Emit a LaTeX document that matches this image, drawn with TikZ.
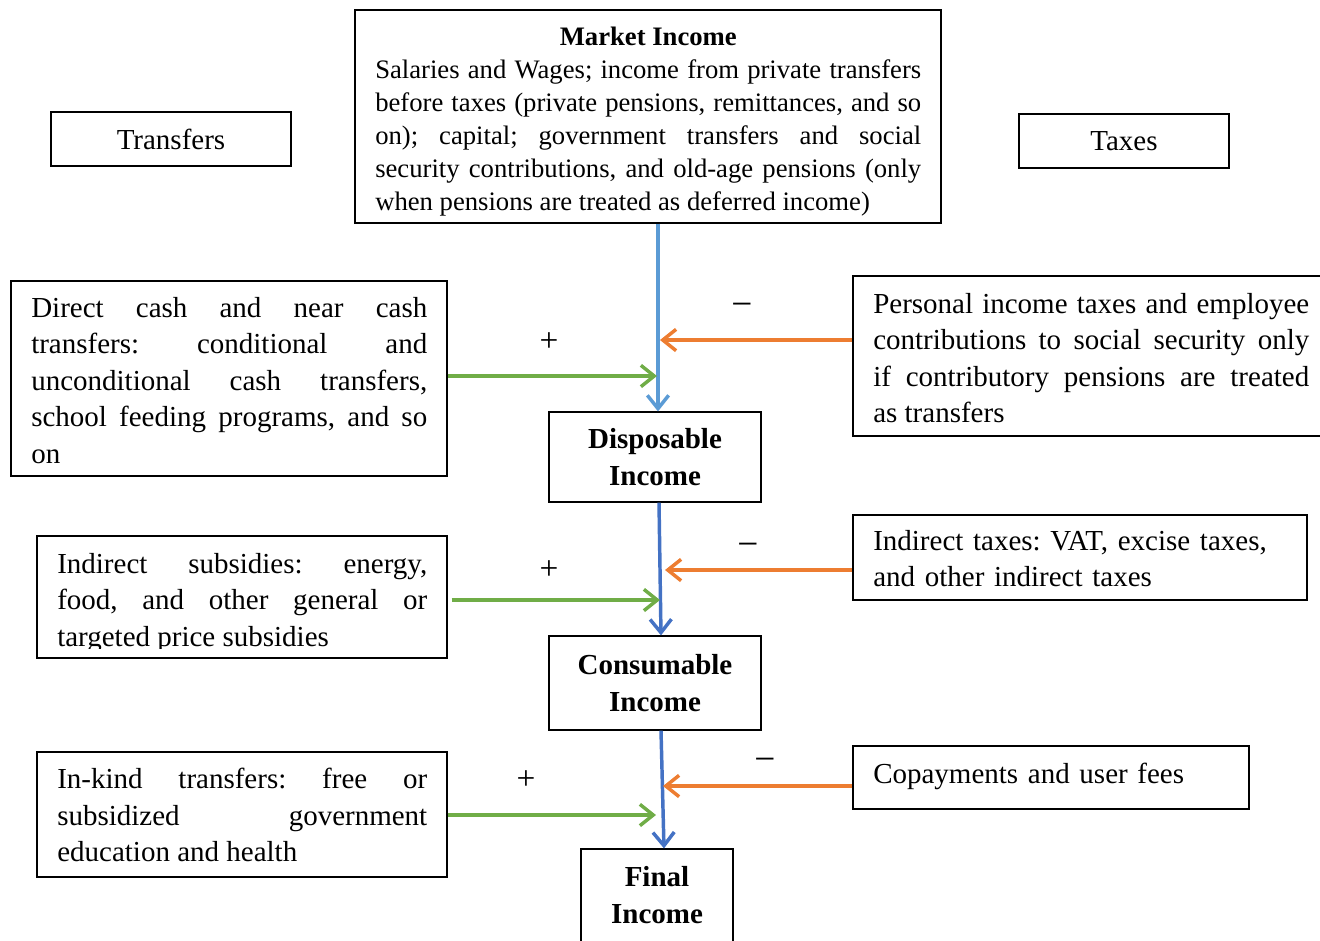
\documentclass[tikz,border=0pt]{standalone}
\usepackage{fontspec}
\setmainfont{Liberation Serif}
\usetikzlibrary{arrows.meta,fit,calc}
\tolerance=10000 \hbadness=10000 \hyphenpenalty=10000 \exhyphenpenalty=10000
\frenchspacing
\newdimen\pxu \pxu=0.75pt
\definecolor{lblue}{HTML}{5B9BD5}
\definecolor{dblue}{HTML}{4472C4}
\definecolor{fgreen}{HTML}{70AD47}
\definecolor{forange}{HTML}{ED7D31}
\newcommand{\bigtxt}{\fontsize{21.75}{27.4}\selectfont}
\newcommand{\midtxt}{\fontsize{20}{24.75}\selectfont}
\newcommand{\bigbold}{\fontsize{21.75}{27.75}\selectfont\bfseries}
\begin{document}
\begin{tikzpicture}[x=0.75pt,y=-0.75pt,
  frame/.style={draw=black, line width=0.9pt, inner sep=0pt},
  para/.style={anchor=north west, inner sep=0pt, align=justify, font=\bigtxt\frenchspacing},
  flow/.style={line width=2.6pt, -{Straight Barb[length=10pt,width=16pt]}},
  plussign/.style={font=\fontsize{25}{26}\selectfont, inner sep=0pt, anchor=base},
  minussign/.style={font=\fontsize{28}{30}\selectfont, inner sep=0pt, anchor=base},
  titlebox/.style={frame, align=center, font=\bigbold},
]
\useasboundingbox (0,0) rectangle (1320,940);
\clip (0,0) rectangle (1320,940);

% top boxes
\node[frame, fit={(355,10)(941,223)}] (market) {};
\node[para, font=\midtxt\frenchspacing, text width=546\pxu] (markettxt) at (375,27)
 {\hspace*{\fill}\textbf{Market Income}\hspace*{\fill}\\
  Salaries and Wages; income from private transfers\linebreak
  before taxes (private pensions, remittances, and so\linebreak
  on); capital; government transfers and social\linebreak
  security contributions, and old-age pensions (only\linebreak
  when pensions are treated as deferred income)};

\node[frame, minimum width=240\pxu, minimum height=54\pxu, font=\bigtxt] (transfers) at (171,139) {Transfers};
\node[frame, minimum width=210\pxu, minimum height=54\pxu, font=\bigtxt] (taxes) at (1124,141) {Taxes};

% left boxes
\node[frame, fit={(11,281)(447,476)}] (direct) {};
\node[para, text width=396\pxu] (directtxt) at (31,297)
 {Direct cash and near cash\linebreak
  transfers: conditional and\linebreak
  unconditional cash transfers,\linebreak
  school feeding programs, and so\linebreak
  on};

\node[frame, fit={(37,536)(447,658)}] (subs) {};
\begin{scope}
\clip (37,536) rectangle (447,648);
\node[para, text width=370\pxu] (substxt) at (57,553)
 {Indirect subsidies: energy,\linebreak
  food, and other general or\linebreak
  targeted price subsidies};
\end{scope}

\node[frame, fit={(37,752)(447,877)}] (inkind) {};
\node[para, text width=370\pxu] (inkindtxt) at (57,768)
 {In-kind transfers: free or\linebreak
  subsidized government\linebreak
  education and health};

% right boxes
\node[frame, fit={(853,276)(1330,436)}] (pers) {};
\node[para, text width=436\pxu] (perstxt) at (873,293)
 {Personal income taxes and employee\linebreak
  contributions to social security only\linebreak
  if contributory pensions are treated\linebreak
  as transfers};

\node[frame, fit={(853,515)(1307,600)}] (indtax) {};
\node[para, align=left, text width=414\pxu] (indtaxtxt) at (873,530)
 {Indirect taxes: VAT, excise taxes,\\ and other indirect taxes};

\node[frame, fit={(853,746)(1249,809)}] (copay) {};
\node[para, align=left, text width=376\pxu] (copaytxt) at (873,763)
 {Copayments and user fees};

% central boxes
\node[titlebox, minimum width=212\pxu, minimum height=90\pxu] (disp) at (655,457) {Disposable\\Income};
\node[titlebox, minimum width=212\pxu, minimum height=94\pxu] (cons) at (655,683) {Consumable\\Income};
\node[frame, fit={(581,849)(733,970)}] (final) {};
\node[font=\bigbold, align=center, inner sep=0pt] (finaltxt) at (657,895) {Final\\Income};

% signs
\node[plussign] (p1) at (549,351) {+};
\node[minussign] (m1) at (742,316) {−};
\node[plussign] (p2) at (549,579) {+};
\node[minussign] (m2) at (748,556) {−};
\node[plussign] (p3) at (526,789) {+};
\node[minussign] (m3) at (765,771) {−};

% connector coordinates
\coordinate (v1) at (658,0);
\coordinate (v2s) at (659,0);
\coordinate (v2e) at (661,0);
\coordinate (v3s) at (661,0);
\coordinate (v3e) at (664,0);
\coordinate (o1) at (660,340);
\coordinate (g1) at (657,376);
\coordinate (o2) at (665,570);
\coordinate (g2) at (660,600);
\coordinate (o3) at (663,786);
\coordinate (g3) at (656,815);

% vertical flow
\draw[flow, lblue] (market.south -| v1) -- (disp.north -| v1);
\draw[flow, dblue] (disp.south -| v2s) -- (cons.north -| v2e);
\draw[flow, dblue] (cons.south -| v3s) -- (final.north -| v3e);

% taxes (orange)
\draw[flow, forange] (pers.west |- o1) -- (o1);
\draw[flow, forange] (indtax.west |- o2) -- (o2);
\draw[flow, forange] (copay.west |- o3) -- (o3);

% transfers (green)
\draw[flow, fgreen] (direct.east |- g1) -- (g1);
\draw[flow, fgreen] ($(subs.east |- g2)+(4,0)$) -- (g2);
\draw[flow, fgreen] (inkind.east |- g3) -- (g3);
\end{tikzpicture}
\end{document}
